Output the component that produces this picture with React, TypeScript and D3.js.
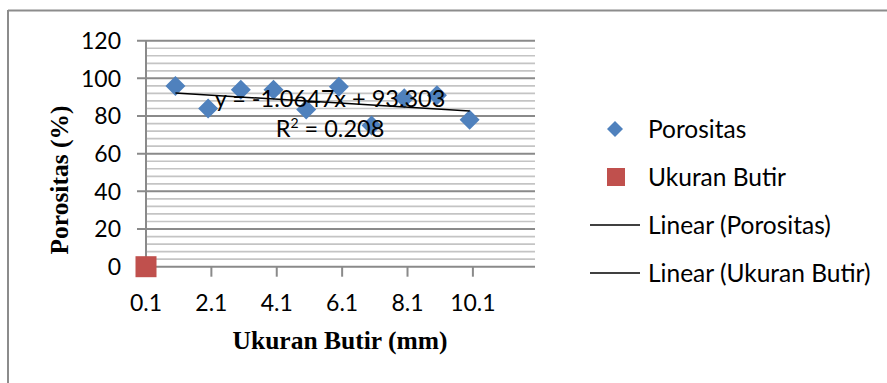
import React from "react";
import * as d3 from "d3";

const xValues = [1, 2, 3, 4, 5, 6, 7, 8, 9, 10];
const porositas = [96, 84, 94, 94, 83.5, 95.5, 75, 89.5, 91, 78];
const ukuranX = [0.1];
const ukuranY = [0];
const xTicks = [0.1, 2.1, 4.1, 6.1, 8.1, 10.1];
const yTicks = [0, 20, 40, 60, 80, 100, 120];
const yMinor = d3.range(0, 121, 4);
const trendSlope = -1.0647;
const trendIntercept = 93.303;
const trendRange = [1, 10];
const legendItems = ["Porositas", "Ukuran Butir", "Linear (Porositas)", "Linear (Ukuran Butir)"];

const BLUE = "#4F81BD";
const RED = "#C0504D";
const SANS = "Lato, 'Open Sans', sans-serif";
const SERIF = "'Liberation Serif', 'Times New Roman', serif";

export default function App() {
  const x = d3.scaleLinear().domain([0.1, 12]).range([146, 535]);
  const y = d3.scaleLinear().domain([0, 120]).range([266.7, 40.7]);
  const diamond = (cx: number, cy: number, w: number, h: number) =>
    `M${cx},${cy - h / 2}L${cx + w / 2},${cy}L${cx},${cy + h / 2}L${cx - w / 2},${cy}Z`;
  const trendLine = d3
    .line<number>()
    .x((d) => x(d))
    .y((d) => y(trendSlope * d + trendIntercept));

  const legendY = [129, 177, 225, 273];

  return (
    <svg
      width={887}
      height={383}
      style={{ position: "absolute", left: 0, top: 0, background: "#fff" }}
    >
      {/* outer frame */}
      <line x1={8} y1={10.5} x2={887} y2={10.5} stroke="#8c8c8c" strokeWidth={2} />
      <line x1={8} y1={10} x2={8} y2={383} stroke="#8c8c8c" strokeWidth={2} />

      {/* minor grid */}
      {yMinor.filter((v) => v % 20 !== 0).map((v) => (
        <line key={"mi" + v} x1={x(0.1)} x2={535} y1={y(v)} y2={y(v)} stroke="#c4c4c4" strokeWidth={1.7} />
      ))}
      {/* major grid */}
      {yTicks.map((v) => (
        <line key={"ma" + v} x1={137} x2={535} y1={y(v)} y2={y(v)} stroke="#8a8a8a" strokeWidth={2} />
      ))}
      {/* y axis */}
      <line x1={x(0.1)} x2={x(0.1)} y1={y(120)} y2={y(0) + 10} stroke="#8a8a8a" strokeWidth={2} />
      {/* x ticks */}
      {xTicks.slice(1).map((v) => (
        <line key={"xt" + v} x1={x(v)} x2={x(v)} y1={y(0)} y2={y(0) + 10} stroke="#8a8a8a" strokeWidth={2} />
      ))}
      {/* y tick labels */}
      {yTicks.map((v) => (
        <text key={"yl" + v} x={121} y={y(v)} dy="0.36em" textAnchor="end" fontFamily={SANS} fontSize={23} fill="#000">
          {v}
        </text>
      ))}
      {/* x tick labels */}
      {xTicks.map((v) => (
        <text key={"xl" + v} x={x(v)} y={311} textAnchor="middle" fontFamily={SANS} fontSize={23} fill="#000">
          {v.toFixed(1)}
        </text>
      ))}

      {/* series */}
      {xValues.map((v, i) => (
        <path key={"p" + i} d={diamond(x(v), y(porositas[i]), 20, 20)} fill={BLUE} />
      ))}
      {ukuranX.map((v, i) => (
        <rect key={"u" + i} x={x(v) - 10.5} y={y(ukuranY[i]) - 10.5} width={21} height={21} fill={RED} />
      ))}
      <path d={trendLine(trendRange) || ""} stroke="#000" strokeWidth={1.5} fill="none" />

      {/* trend label */}
      <text x={330} y={107} textAnchor="middle" fontFamily={SANS} fontSize={23.5} fill="#000">
        {`y = -${Math.abs(trendSlope)}x + ${trendIntercept}`}
      </text>
      <text x={330} y={137} textAnchor="middle" fontFamily={SANS} fontSize={23.5} fill="#000">
        R<tspan dy={-9} fontSize={14}>2</tspan>
        <tspan dy={9}> = 0.208</tspan>
      </text>

      {/* axis titles */}
      <text
        transform={`translate(68,180) rotate(-90)`}
        textAnchor="middle"
        fontFamily={SERIF}
        fontWeight="bold"
        fontSize={25.5}
        fill="#000"
      >
        Porositas (%)
      </text>
      <text x={340} y={349} textAnchor="middle" fontFamily={SERIF} fontWeight="bold" fontSize={25.5} fill="#000">
        Ukuran Butir (mm)
      </text>

      {/* legend */}
      <path d={diamond(615, legendY[0], 16, 16)} fill={BLUE} />
      <rect x={607} y={legendY[1] - 9} width={18} height={18} fill={RED} />
      <line x1={590} x2={640} y1={legendY[2]} y2={legendY[2]} stroke="#000" strokeWidth={1.5} />
      <line x1={590} x2={640} y1={legendY[3]} y2={legendY[3]} stroke="#000" strokeWidth={1.5} />
      {legendItems.map((t, i) => (
        <text key={t} x={648} y={legendY[i]} dy="0.36em" fontFamily={SANS} fontSize={24.5} fill="#000">
          {t}
        </text>
      ))}
    </svg>
  );
}
